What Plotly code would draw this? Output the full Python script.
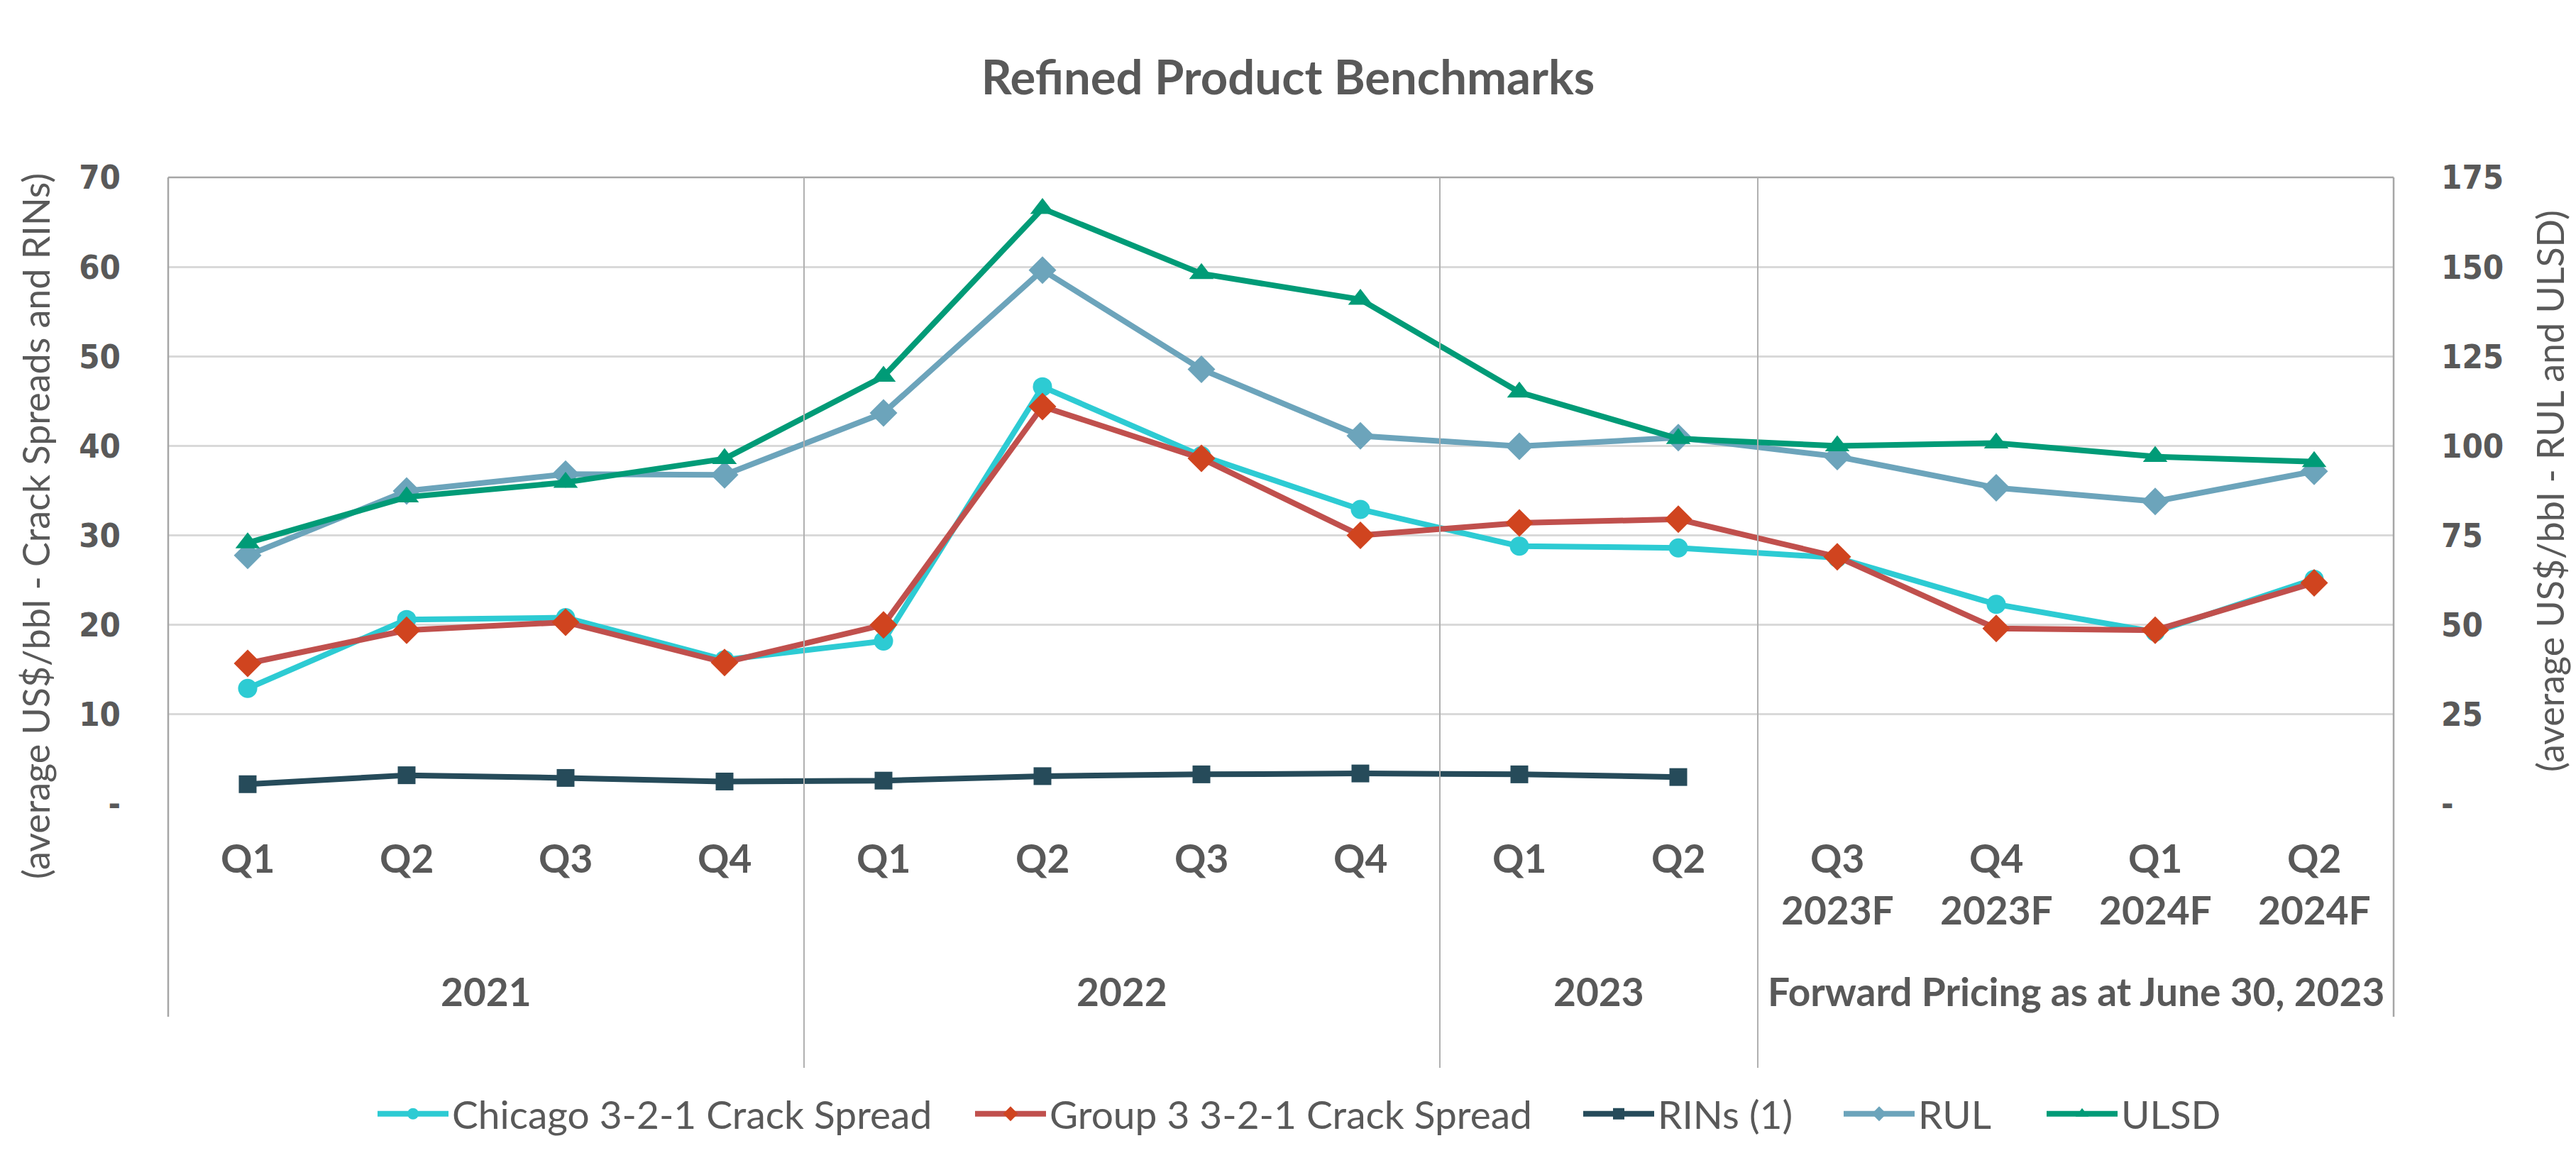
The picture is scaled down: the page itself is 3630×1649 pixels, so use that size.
import plotly.graph_objects as go

# ---------------- data ----------------
quarters = ["Q1", "Q2", "Q3", "Q4", "Q1", "Q2", "Q3", "Q4", "Q1", "Q2", "Q3", "Q4", "Q1", "Q2"]
sub_labels = ["", "", "", "", "", "", "", "", "", "", "2023F", "2023F", "2024F", "2024F"]
period_keys = ["2021"] * 4 + ["2022"] * 4 + ["2023"] * 2 + ["F"] * 4
groups = ["2021", "2022", "2023", "Forward Pricing as at June 30, 2023"]
group_sizes = [4, 4, 2, 4]

chicago = [12.9, 20.6, 20.8, 16.1, 18.2, 46.6, 38.9, 32.9, 28.8, 28.6, 27.5, 22.3, 19.2, 25.1]
group3 = [15.7, 19.4, 20.3, 15.8, 20.0, 44.4, 38.6, 30.0, 31.4, 31.8, 27.6, 19.6, 19.4, 24.7]
rins = [2.2, 3.2, 2.9, 2.5, 2.6, 3.1, 3.3, 3.4, 3.3, 3.0]
rul = [69.4, 87.4, 92.1, 91.9, 109.2, 149.1, 121.4, 102.8, 99.9, 102.3, 97.0, 88.3, 84.5, 92.9]
ulsd = [72.9, 85.7, 89.8, 96.4, 119.4, 166.3, 148.1, 140.9, 115.0, 102.0, 100.0, 100.8, 97.0, 95.6]

left_ticks = [0, 10, 20, 30, 40, 50, 60, 70]
left_ticktext = ["-", "10", "20", "30", "40", "50", "60", "70"]
right_ticks = [0, 25, 50, 75, 100, 125, 150, 175]
right_ticktext = ["-", "25", "50", "75", "100", "125", "150", "175"]

categories = [f"{q} {p}" for q, p in zip(quarters, period_keys)]

# ---------------- style ----------------
W, H = 3630, 1649
L, R, T, B = 237, 3373, 250, 1133
PW, PH = R - L, B - T
GREY = "#595959"
TXT = "Lato, Noto Sans, sans-serif"
TICKF = "DejaVu Sans Condensed, DejaVu Sans, sans-serif"
LEGEND_X = [527, 1369, 2226, 2593, 2879]   # pixel start of each legend entry
LEGEND_Y = 1570


def py(pix):
    return (B - pix) / PH


def px(pix):
    return (pix - L) / PW


fig = go.Figure()

fig.add_trace(go.Scatter(x=categories, y=chicago, name="Chicago 3-2-1 Crack Spread",
                         mode="lines+markers", line=dict(color="#2DCBD3", width=8),
                         marker=dict(symbol="circle", size=27, color="#2DCBD3"),
                         legend="legend", showlegend=True))
fig.add_trace(go.Scatter(x=categories, y=group3, name="Group 3 3-2-1 Crack Spread",
                         mode="lines+markers", line=dict(color="#C0504D", width=8),
                         marker=dict(symbol="diamond", size=30, color="#D0441F"),
                         legend="legend2", showlegend=True))
fig.add_trace(go.Scatter(x=categories[:len(rins)], y=rins, name="RINs (1)",
                         mode="lines+markers", line=dict(color="#264B5A", width=8),
                         marker=dict(symbol="square", size=25, color="#264B5A"),
                         legend="legend3", showlegend=True))
fig.add_trace(go.Scatter(x=categories, y=rul, name="RUL", yaxis="y2",
                         mode="lines+markers", line=dict(color="#6CA4BB", width=8),
                         marker=dict(symbol="diamond", size=30, color="#6CA4BB"),
                         legend="legend4", showlegend=True))
fig.add_trace(go.Scatter(x=categories, y=ulsd, name="ULSD", yaxis="y2",
                         mode="lines+markers", line=dict(color="#009B77", width=8),
                         marker=dict(symbol="triangle-up", size=30, color="#009B77"),
                         legend="legend5", showlegend=True))

annotations = []
for c, q, s in zip(categories, quarters, sub_labels):
    annotations.append(dict(x=c, y=py(1209), xref="x", yref="paper", text=f"<b>{q}</b>",
                            showarrow=False, xanchor="center", yanchor="middle",
                            font=dict(family=TXT, size=55, color=GREY)))
    if s:
        annotations.append(dict(x=c, y=py(1282), xref="x", yref="paper", text=f"<b>{s}</b>",
                                showarrow=False, xanchor="center", yanchor="middle",
                                font=dict(family=TXT, size=55, color=GREY)))
start = 0
bounds = []
for g, n in zip(groups, group_sizes):
    center = start + (n - 1) / 2
    annotations.append(dict(x=center, y=py(1397), xref="x", yref="paper", text=f"<b>{g}</b>",
                            showarrow=False, xanchor="center", yanchor="middle",
                            font=dict(family=TXT, size=55, color=GREY)))
    start += n
    bounds.append(start - 0.5)

annotations.append(dict(x=px(50), y=py(742), xref="paper", yref="paper",
                        text="(average US$/bbl - Crack Spreads and RINs)", textangle=-90,
                        showarrow=False, xanchor="center", yanchor="middle",
                        font=dict(family=TXT, size=52, color=GREY)))
annotations.append(dict(x=px(3593), y=py(692), xref="paper", yref="paper",
                        text="(average US$/bbl - RUL and ULSD)", textangle=-90,
                        showarrow=False, xanchor="center", yanchor="middle",
                        font=dict(family=TXT, size=52, color=GREY)))

shapes = []
BORDER = "#A6A6A6"
shapes.append(dict(type="line", xref="paper", yref="paper", x0=0, x1=1, y0=1, y1=1,
                   line=dict(color=BORDER, width=2.5)))
for xx in (0, 1):
    shapes.append(dict(type="line", xref="paper", yref="paper", x0=xx, x1=xx, y0=1, y1=py(1433),
                       line=dict(color=BORDER, width=2.5)))
for bnd in bounds[:-1]:
    shapes.append(dict(type="line", xref="x", yref="paper", x0=bnd, x1=bnd, y0=1, y1=py(1505),
                       line=dict(color="#B0B0B0", width=2)))

legend_common = dict(orientation="h", xref="container", xanchor="left",
                     y=(H - LEGEND_Y) / H, yref="container", yanchor="middle",
                     font=dict(family=TXT, size=55, color=GREY), itemwidth=100,
                     bgcolor="rgba(0,0,0,0)", borderwidth=0, visible=True)
legends = {}
for i, lx in enumerate(LEGEND_X):
    key = "legend" if i == 0 else f"legend{i + 1}"
    legends[key] = dict(legend_common, x=lx / W)

fig.update_layout(
    template="none",
    width=W, height=H,
    showlegend=True,
    margin=dict(l=L, r=W - R, t=T, b=H - B, pad=0),
    paper_bgcolor="white", plot_bgcolor="white",
    title=dict(text="<b>Refined Product Benchmarks</b>", x=0.5, xref="container", xanchor="center",
               y=1 - 110 / H, yref="container", yanchor="middle",
               font=dict(family=TXT, size=67, color=GREY)),
    xaxis=dict(type="category", range=[-0.5, len(categories) - 0.5], showticklabels=False,
               showgrid=False, zeroline=False, showline=False, ticks=""),
    yaxis=dict(range=[0, 70], tickvals=left_ticks, ticktext=left_ticktext,
               showgrid=True, gridcolor="#D9D9D9", gridwidth=3, zeroline=False, showline=False,
               ticks="", ticklabelstandoff=66,
               tickfont=dict(family=TICKF, size=47, color=GREY, weight="bold")),
    yaxis2=dict(range=[0, 175], tickvals=right_ticks, ticktext=right_ticktext, overlaying="y",
                side="right", showgrid=False, zeroline=False, showline=False, ticks="",
                ticklabelstandoff=66,
                tickfont=dict(family=TICKF, size=47, color=GREY, weight="bold")),
    annotations=annotations,
    shapes=shapes,
    **legends,
)

fig.write_html("out.html")
